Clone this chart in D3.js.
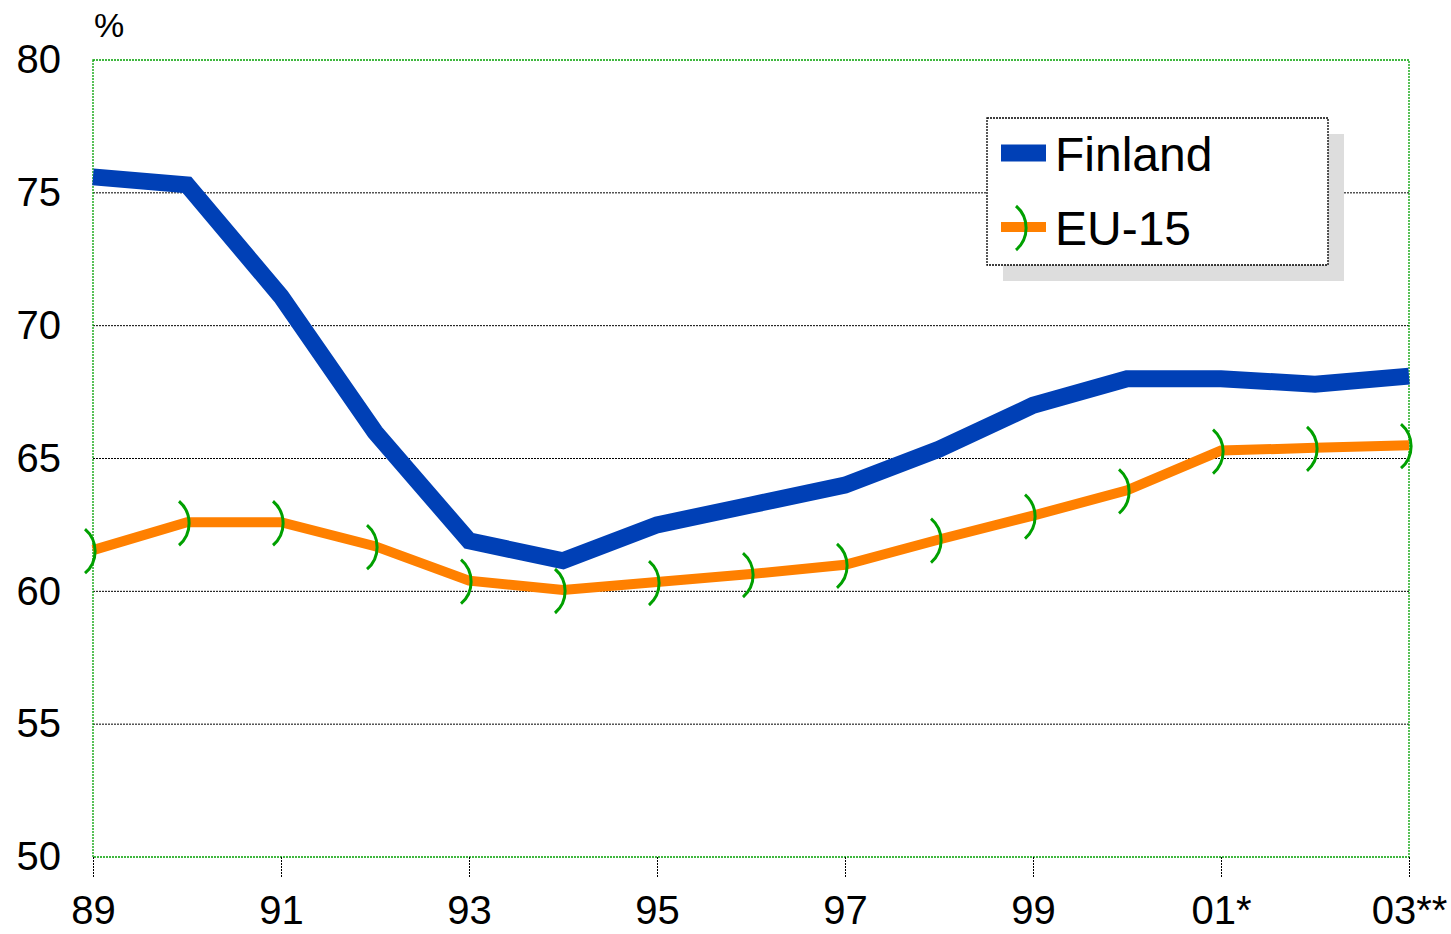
<!DOCTYPE html>
<html><head><meta charset="utf-8">
<script src="https://cdn.jsdelivr.net/npm/d3@7"></script>
<style>body{margin:0;background:#fff}svg{display:block;font-family:"Liberation Sans",Arial,sans-serif}</style>
</head><body><svg id="c" width="1451" height="934"></svg>
<script>
const years = ["89","90","91","92","93","94","95","96","97","98","99","00","01*","02","03**"];
const tickLabels = ["89","91","93","95","97","99","01*","03**"];
const finland = [75.6,75.3,71.1,66.0,61.9,61.15,62.5,63.25,64.0,65.35,67.0,68.0,68.0,67.8,68.1];
const eu15 = [61.55,62.6,62.6,61.7,60.4,60.05,60.35,60.65,61.0,61.95,62.85,63.8,65.3,65.4,65.5];
const yTicks = [50,55,60,65,70,75,80];
const seriesNames = ["Finland","EU-15"];

const svg = d3.select("#c");
const L=93, R=1409, T=60, B=857;
const x = d3.scalePoint().domain(years).range([L,R]);
const y = d3.scaleLinear().domain([50,80]).range([B,T]);

// gridlines
svg.append("g").selectAll("line").data(yTicks.filter(v=>v>50&&v<80)).join("line")
  .attr("x1",L).attr("x2",R).attr("y1",d=>y(d)).attr("y2",d=>y(d))
  .attr("stroke","#000").attr("stroke-width",1).attr("stroke-dasharray","2,1");

// plot border
svg.append("rect").attr("x",L).attr("y",T).attr("width",R-L).attr("height",B-T)
  .attr("fill","none").attr("stroke","#00A000").attr("stroke-width",1.3).attr("stroke-dasharray","2,1");

// x axis ticks
const xAxis = d3.axisBottom(x).tickValues(tickLabels).tickSize(20).tickPadding(19).tickSizeOuter(0);
const gx = svg.append("g").attr("transform",`translate(0,${B})`).call(xAxis);
gx.select(".domain").remove();
gx.selectAll(".tick line").attr("stroke","#000").attr("stroke-dasharray","2,1");
gx.selectAll(".tick text").attr("font-size",40).attr("fill","#000").attr("font-family","Liberation Sans, Arial, sans-serif").attr("dy","0.71em");

// y axis labels
const yAxis = d3.axisLeft(y).tickValues(yTicks).tickSize(0).tickPadding(32);
const gy = svg.append("g").attr("transform",`translate(${L},0)`).call(yAxis);
gy.select(".domain").remove();
gy.selectAll(".tick text").attr("font-size",40).attr("fill","#000").attr("font-family","Liberation Sans, Arial, sans-serif");

svg.append("text").attr("x",94).attr("y",37).attr("font-size",34).text("%");

const line = d3.line().x((d,i)=>x(years[i])).y(d=>y(d));
svg.append("path").datum(eu15).attr("d",line).attr("fill","none").attr("stroke","#FF8000").attr("stroke-width",10).attr("stroke-linejoin","miter");
svg.append("path").datum(finland).attr("d",line).attr("fill","none").attr("stroke","#0040B6").attr("stroke-width",17).attr("stroke-linejoin","miter");

// markers: right-parenthesis arcs
const mk = "M-8,-22 A29,29 0 0 1 -8,22";
svg.append("g").selectAll("path").data(eu15).join("path")
  .attr("transform",(d,i)=>`translate(${x(years[i])},${y(d)+1})`)
  .attr("d",mk).attr("fill","none").attr("stroke","#00A000").attr("stroke-width",3);

// legend
const lg = svg.append("g");
lg.append("rect").attr("x",1003).attr("y",134).attr("width",341).attr("height",147).attr("fill","#DDDDDD");
lg.append("rect").attr("x",987).attr("y",118).attr("width",341).attr("height",147).attr("fill","#fff")
  .attr("stroke","#000").attr("stroke-width",1.3).attr("stroke-dasharray","2,1");
lg.append("line").attr("x1",1001).attr("x2",1046).attr("y1",153).attr("y2",153).attr("stroke","#0040B6").attr("stroke-width",17);
lg.append("line").attr("x1",1001).attr("x2",1046).attr("y1",227).attr("y2",227).attr("stroke","#FF8000").attr("stroke-width",10);
lg.append("path").attr("transform","translate(1024,228)").attr("d",mk).attr("fill","none").attr("stroke","#00A000").attr("stroke-width",3);
lg.selectAll("text").data(seriesNames).join("text")
  .attr("x",1055).attr("y",(d,i)=>171+i*74).attr("font-size",48).attr("fill","#000").text(d=>d);
</script></body></html>
